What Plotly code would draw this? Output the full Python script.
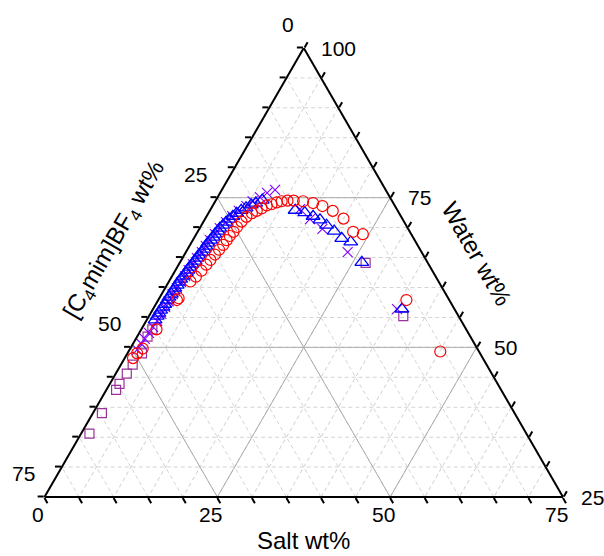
import plotly.graph_objects as go

# ---------------- data (wt%) ----------------
# red open circles
circ_water = [48.2, 49.0, 49.8, 53.0, 57.9, 58.2, 61.0, 61.8, 62.8, 63.8, 64.6, 65.5, 66.3, 67.1, 67.9,
              68.6, 69.3, 70.1, 71.0, 71.8, 72.4, 72.8, 73.2, 73.7, 73.9, 74.2, 74.4, 74.5, 74.5, 74.4,
              74.1, 73.6, 72.8, 71.5, 69.3, 68.9, 57.9, 49.3]
circ_salt = [1.2, 1.4, 1.8, 2.2, 2.7, 2.8, 3.1, 3.5, 3.8, 4.0, 4.2, 4.4, 4.6, 4.8, 4.9,
             5.0, 5.2, 5.3, 5.5, 5.8, 6.3, 6.8, 7.3, 7.8, 8.4, 9.0, 9.6, 10.4, 11.3, 12.7,
             14.3, 15.9, 17.8, 20.0, 22.5, 24.1, 35.9, 45.1]
circ_il = [50.6, 49.6, 48.4, 44.8, 39.4, 39.0, 35.9, 34.7, 33.4, 32.2, 31.2, 30.1, 29.1, 28.1, 27.2,
           26.4, 25.5, 24.6, 23.5, 22.4, 21.3, 20.4, 19.5, 18.5, 17.7, 16.8, 16.0, 15.1, 14.2, 12.9,
           11.6, 10.5, 9.4, 8.5, 8.2, 7.0, 6.2, 5.6]

# blue open triangles
tri_water = [54.6, 55.2, 55.7, 56.2, 56.7, 57.2, 57.9, 58.4, 58.9, 59.4, 59.9, 60.4, 60.9, 61.4, 61.9,
             62.4, 62.9, 63.4, 63.9, 64.4, 64.9, 65.4, 65.9, 66.4, 66.9, 67.4, 67.9, 68.4, 68.9, 69.4,
             69.9, 70.4, 70.9, 71.4, 71.9, 72.4, 72.9, 73.3, 73.8, 74.1, 74.6,
             72.9, 72.5, 71.9, 71.3, 70.4, 69.4, 68.2, 67.6, 64.2, 56.4]
tri_salt = [1.2, 1.2, 1.2, 1.2, 1.3, 1.3, 1.3, 1.3, 1.4, 1.4, 1.4, 1.5, 1.5, 1.5, 1.6,
            1.8, 1.8, 1.8, 1.9, 2.1, 2.1, 2.1, 2.3, 2.4, 2.4, 2.4, 2.6, 2.7, 2.7, 2.9,
            2.9, 3.1, 3.3, 3.5, 3.8, 4.1, 4.5, 5.0, 5.5, 6.0, 6.7,
            12.3, 13.9, 15.4, 16.7, 18.1, 19.7, 21.4, 23.0, 26.3, 36.0]
tri_il = [44.2, 43.6, 43.1, 42.6, 42.0, 41.5, 40.8, 40.3, 39.7, 39.2, 38.7, 38.1, 37.6, 37.1, 36.5,
          35.8, 35.3, 34.8, 34.2, 33.5, 33.0, 32.5, 31.8, 31.2, 30.7, 30.2, 29.5, 28.9, 28.4, 27.7,
          27.2, 26.5, 25.8, 25.1, 24.3, 23.5, 22.6, 21.7, 20.7, 19.9, 18.7,
          14.8, 13.6, 12.7, 12.0, 11.5, 10.9, 10.4, 9.4, 9.5, 7.6]

# violet crosses
x_water = [49.6, 50.6, 51.4, 52.4, 53.4, 54.4, 55.6, 56.7, 57.7, 58.9, 59.9, 60.9, 61.9, 62.9, 63.9,
           64.9, 65.9, 66.9, 67.9, 68.9, 69.9, 70.9, 71.9, 72.8, 73.6, 74.4, 75.1, 75.8, 76.3,
           73.1, 71.4, 69.8, 65.9, 56.4]
x_salt = [1.1, 1.2, 1.3, 1.4, 1.5, 1.6, 1.6, 1.6, 1.6, 1.6, 1.7, 1.8, 1.9, 1.9, 2.0,
          2.1, 2.3, 2.4, 2.5, 2.7, 2.9, 3.3, 3.7, 4.2, 4.9, 5.4, 6.1, 6.8, 7.7,
          12.9, 15.2, 17.8, 23.4, 35.3]
x_il = [49.3, 48.2, 47.3, 46.2, 45.1, 44.0, 42.8, 41.7, 40.7, 39.5, 38.4, 37.3, 36.2, 35.2, 34.1,
        33.0, 31.8, 30.7, 29.6, 28.4, 27.2, 25.8, 24.4, 23.0, 21.5, 20.2, 18.8, 17.4, 16.0,
        14.0, 13.4, 12.4, 10.7, 8.3]

# purple open squares
sq_water = [35.6, 39.0, 42.9, 43.9, 45.6, 47.1, 49.0, 51.8, 53.0, 64.1, 55.2]
sq_salt = [1.2, 1.3, 1.4, 1.4, 1.6, 1.7, 2.1, 1.5, 1.6, 26.9, 36.8]
sq_il = [63.2, 59.7, 55.7, 54.7, 52.8, 51.2, 48.9, 46.7, 45.4, 9.0, 8.0]

# axis ticks (every 5 wt%) and labelled values
water_ticks = list(range(25, 101, 5))
il_ticks = list(range(0, 76, 5))
salt_ticks = list(range(0, 76, 5))
il_labels = [0, 25, 50, 75]
salt_labels = [0, 25, 50, 75]
water_labels = [25, 50, 75, 100]
major_vals = [25, 50]

FONT = "Liberation Sans, Arial, sans-serif"
W_PX, H_PX = 604, 556
# triangle placement (pixels)
TX0, TX1, TYB, TYT = 44.5, 563.0, 497.0, 48.0


def to_paper(water, il, salt):
    """ternary composition -> paper coordinates of the triangle drawn below"""
    lt = (water - 25) / 75.0
    lr = salt / 75.0
    px = TX0 + (TX1 - TX0) * (lr + lt / 2.0)
    py = TYB - (TYB - TYT) * lt
    return px / W_PX, 1 - py / H_PX


fig = go.Figure()

# major grid lines (solid grey) at 25 / 50 for each component
grid_kw = dict(mode="lines", line=dict(color="#ababab", width=1), hoverinfo="skip", showlegend=False)
for v in major_vals:
    fig.add_trace(go.Scatterternary(a=[25, 100 - v], b=[75 - v, 0], c=[v, v], **grid_kw))
    fig.add_trace(go.Scatterternary(a=[25, 100 - v], b=[v, v], c=[75 - v, 0], **grid_kw))
    w = v + 25
    fig.add_trace(go.Scatterternary(a=[w, w], b=[0, 100 - w], c=[100 - w, 0], **grid_kw))

fig.add_trace(go.Scatterternary(
    a=sq_water, b=sq_il, c=sq_salt, mode="markers",
    marker=dict(symbol="square-open", size=9, color="#993399", line=dict(width=1.2))))
fig.add_trace(go.Scatterternary(
    a=x_water, b=x_il, c=x_salt, mode="markers",
    marker=dict(symbol="x-thin-open", size=10, color="#8000ff", line=dict(width=1.1, color="#8000ff"))))
fig.add_trace(go.Scatterternary(
    a=tri_water, b=tri_il, c=tri_salt, mode="markers",
    marker=dict(symbol="triangle-up-open", size=12, color="#0000ff", line=dict(width=1.3))))
fig.add_trace(go.Scatterternary(
    a=circ_water, b=circ_il, c=circ_salt, mode="markers",
    marker=dict(symbol="circle-open", size=11, color="#ff0000", line=dict(width=1.2))))

axis_common = dict(
    tickmode="array", ticks="outside", ticklen=6, tickwidth=1.5, tickcolor="black",
    showticklabels=False,
    showline=True, linecolor="black", linewidth=2,
    showgrid=True, gridcolor="#d4d4d4", gridwidth=1, griddash="4px,3px",
    title=dict(text=""),
)

tick_font = dict(family=FONT, size=21, color="black")
annotations = []
# left edge: IL wt%
for v in il_labels:
    x, y = to_paper(100 - v, v, 0)
    annotations.append(dict(text=str(v), x=x, y=y, xref="paper", yref="paper", showarrow=False,
                            xanchor="right", yanchor="middle", xshift=-8, yshift=23.5, font=tick_font))
# bottom edge: salt wt%
for v in salt_labels:
    x, y = to_paper(25, 75 - v, v)
    annotations.append(dict(text=str(v), x=x, y=y, xref="paper", yref="paper", showarrow=False,
                            xanchor="center", yanchor="middle", xshift=-7, yshift=-17, font=tick_font))
# right edge: water wt%
for v in water_labels:
    x, y = to_paper(v, 0, 100 - v)
    annotations.append(dict(text=str(v), x=x, y=y, xref="paper", yref="paper", showarrow=False,
                            xanchor="left", yanchor="middle", xshift=15.5, yshift=0, font=tick_font))

title_font = dict(family=FONT, size=24, color="black")
annotations += [
    dict(text="[C<sub>4</sub>mim]BF<sub>4</sub> wt%", x=115 / W_PX, y=1 - 241 / H_PX,
         xref="paper", yref="paper", showarrow=False, textangle=-60,
         xanchor="center", yanchor="middle", font=title_font),
    dict(text="Water wt%", x=477 / W_PX, y=1 - 253 / H_PX,
         xref="paper", yref="paper", showarrow=False, textangle=60,
         xanchor="center", yanchor="middle", font=title_font),
    dict(text="Salt wt%", x=303 / W_PX, y=1 - 540 / H_PX,
         xref="paper", yref="paper", showarrow=False,
         xanchor="center", yanchor="middle", font=title_font),
]

fig.update_layout(
    width=W_PX, height=H_PX,
    margin=dict(l=0, r=0, t=0, b=0),
    paper_bgcolor="white",
    showlegend=False,
    font=dict(family=FONT, color="black"),
    ternary=dict(
        sum=100,
        bgcolor="white",
        domain=dict(x=[TX0 / W_PX, TX1 / W_PX], y=[1 - TYB / H_PX, 1 - TYT / H_PX]),
        aaxis=dict(min=25, tickvals=water_ticks, **axis_common),
        baxis=dict(min=0, tickvals=il_ticks, **axis_common),
        caxis=dict(min=0, tickvals=salt_ticks, **axis_common),
    ),
    annotations=annotations,
)

fig.write_html("out.html")
